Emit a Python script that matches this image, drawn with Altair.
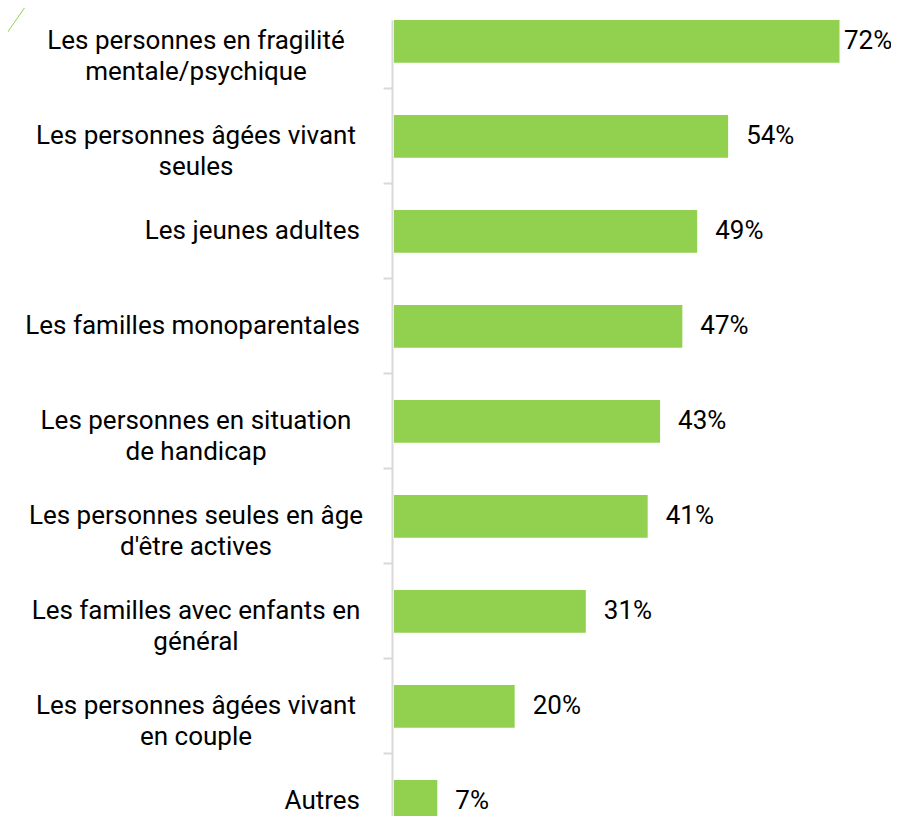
import altair as alt
import pandas as pd

categories = [
    "Les personnes en fragilité\nmentale/psychique",
    "Les personnes âgées vivant\nseules",
    "Les jeunes adultes",
    "Les familles monoparentales",
    "Les personnes en situation\nde handicap",
    "Les personnes seules en âge\nd'être actives",
    "Les familles avec enfants en\ngénéral",
    "Les personnes âgées vivant\nen couple",
    "Autres",
]
values = [72, 54, 49, 46.6, 43, 41, 31, 19.5, 7]

df = pd.DataFrame({"category": categories, "value": values})

GREEN = "#92D050"
GRAY = "#D9D9D9"
FONT = "Roboto"
FS = 26

yscale = alt.Scale(paddingInner=0.55, paddingOuter=0, range=[12, 814.75])
xscale = alt.Scale(domain=[0, 80], nice=False)

yaxis = alt.Axis(
    title=None,
    labels=False,
    grid=False,
    domainColor=GRAY,
    domainWidth=2,
    tickColor=GRAY,
    tickWidth=2,
    tickSize=9,
    bandPosition=1.611,
    offset=2,
)
Y = alt.Y("category:N", sort=categories, scale=yscale, axis=yaxis)
X = alt.X("value:Q", scale=xscale, axis=None)

base = alt.Chart(df)

bars = base.mark_bar(color=GREEN).encode(x=X, y=Y)

values_text = base.transform_calculate(
    lbl="format(datum.value, '.0f') + '%'"
).mark_text(
    align="left",
    baseline="middle",
    font=FONT,
    fontSize=FS,
    color="#000000",
    dx=alt.expr("min(18, width - 45 - scale('x', datum.value))"),
).encode(x=X, y=Y, text="lbl:N")

single_labels = base.transform_filter(
    "indexof(datum.category, '\\n') < 0"
).mark_text(
    align="right",
    baseline="middle",
    font=FONT,
    fontSize=FS,
    color="#000000",
    dx=-34,
).encode(x=alt.value(0), y=Y, text="category:N")

multi_labels = base.transform_filter(
    "indexof(datum.category, '\\n') >= 0"
).transform_calculate(
    lines="split(datum.category, '\\n')"
).mark_text(
    align="center",
    baseline="middle",
    font=FONT,
    fontSize=FS,
    lineHeight=31,
    color="#000000",
    dx=-198,
).encode(x=alt.value(0), y=Y, text="lines:N")

deco = alt.Chart(pd.DataFrame({"d": [0]})).mark_rule(
    color=GREEN, strokeWidth=1
).encode(
    x=alt.value(-394), y=alt.value(35), x2=alt.value(-364), y2=alt.value(-8)
)

chart = alt.layer(bars, values_text, single_labels, multi_labels, deco).properties(
    width=495,
    height=808,
    autosize=alt.AutoSizeParams(type="none"),
    padding={"left": 386, "top": 0, "right": 2, "bottom": 0},
).configure_view(stroke=None)

chart.save("out.html", embed_options={"renderer": "svg", "actions": False})
